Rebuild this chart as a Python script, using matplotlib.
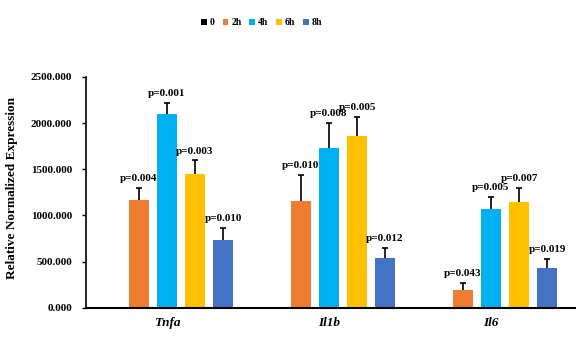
import matplotlib
matplotlib.use("Agg")
import matplotlib.pyplot as plt
import numpy as np

genes = ["Tnfa", "Il1b", "Il6"]
timepoints = ["0", "2h", "4h", "6h", "8h"]
colors = ["#000000", "#ED7D31", "#00B0F0", "#FFC000", "#4472C4"]

expr_0h = [0.0, 0.0, 0.0]
expr_2h = [1163, 1152, 192]
expr_4h = [2102, 1725, 1073]
expr_6h = [1453, 1863, 1149]
expr_8h = [733, 540, 428]

err_0h = [0, 0, 0]
err_2h = [135, 283, 73]
err_4h = [112, 279, 127]
err_6h = [142, 207, 149]
err_8h = [130, 105, 101]

p_2h = ["p=0.004", "p=0.010", "p=0.043"]
p_4h = ["p=0.001", "p=0.008", "p=0.005"]
p_6h = ["p=0.003", "p=0.005", "p=0.007"]
p_8h = ["p=0.010", "p=0.012", "p=0.019"]

values = [expr_0h, expr_2h, expr_4h, expr_6h, expr_8h]
errors = [err_0h, err_2h, err_4h, err_6h, err_8h]
pvals = [None, p_2h, p_4h, p_6h, p_8h]

plt.rcParams["font.family"] = ["Liberation Serif", "DejaVu Serif"]

fig = plt.figure(figsize=(5.79, 3.37), dpi=100)
ax = fig.add_axes([0.1485, 0.087, 0.845, 0.685])

x = np.arange(len(genes))
width = 0.123
step = 0.173

for i, (vals, errs, col, lab) in enumerate(zip(values, errors, colors, timepoints)):
    pos = x + (i - 2) * step
    ax.bar(pos, vals, width=width, color=col, label=lab, zorder=2)
    if i == 0:
        continue
    _, caps, _ = ax.errorbar(pos, vals, yerr=[np.zeros(len(errs)), errs], fmt="none",
                             ecolor="black", elinewidth=1.2, capsize=2.5,
                             capthick=1.2, zorder=3)
    # only the upper whisker gets a cap
    caps[0].set_visible(False)
    for px, v, e, t in zip(pos, vals, errs, pvals[i]):
        ax.annotate(t, (px, v + e), xytext=(0, 3.5), textcoords="offset points",
                    ha="center", va="bottom", fontsize=8, fontweight="bold")

ax.set_xlim(-0.5, 2.52)
ax.set_ylim(0, 2500)
ticks = np.arange(0, 2501, 500)
ax.set_yticks(ticks)
ax.set_yticklabels([f"{v:.3f}" for v in ticks], fontsize=8, fontweight="bold")
ax.set_xticks(x)
ax.set_xticklabels(genes, fontsize=9.5, fontweight="bold", fontstyle="italic")
ax.tick_params(axis="x", length=0, pad=7)
ax.tick_params(axis="y", direction="out", length=3, width=1, pad=7)

for s in ["top", "right"]:
    ax.spines[s].set_visible(False)
ax.spines["left"].set_linewidth(1.2)
ax.spines["bottom"].set_linewidth(1.5)

ax.set_ylabel("Relative Normalized Expression", fontsize=9.5, fontweight="bold")
ax.yaxis.set_label_coords(-0.138, 0.52)

fig.legend(loc="center", bbox_to_anchor=(0.452, 0.932), ncol=5, frameon=False,
           handlelength=0.6, handleheight=0.6, handletextpad=0.3,
           columnspacing=0.8, prop={"weight": "bold", "size": 7})

fig.savefig("out.png", dpi=100)
